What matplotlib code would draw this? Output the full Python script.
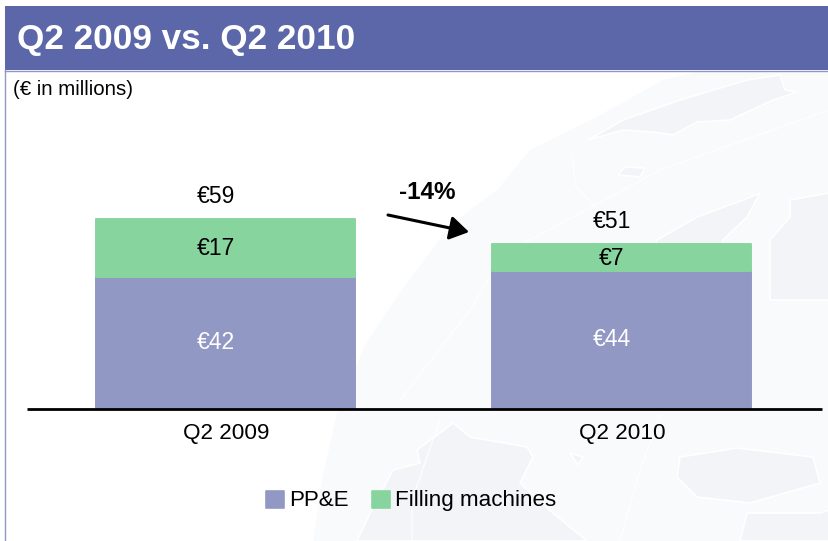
import matplotlib
matplotlib.use("Agg")
import matplotlib.pyplot as plt
from matplotlib.patches import Polygon, Rectangle

plt.rcParams["font.family"] = ["Liberation Sans", "DejaVu Sans"]

# values as printed on the chart
categories = ["Q2 2009", "Q2 2010"]
ppe_labels = ["€42", "€44"]
filling_labels = ["€17", "€7"]
total_labels = ["€59", "€51"]
change_label = "-14%"
title = "Q2 2009 vs. Q2 2010"
unit_note = "(€ in millions)"

# segment heights (the drawn bars are not quite to scale)
ppe_values = [42.0, 44.0]
filling_values = [18.8, 8.6]

bar_x = [226, 622]
scale = 3.12  # pixels per € million
base_y = 408.5

PPE_COLOR = "#9298C4"
FILL_COLOR = "#87D49E"

# faint map behind the chart, in pixel coordinates
globe_edge = [(313, 541), (322, 480), (337, 413), (365, 345), (402, 290), (450, 225), (497, 190),
              (530, 150), (597, 117), (663, 80), (700, 71), (829, 71), (829, 541)]
land = [
    [(588, 140), (623, 120), (680, 100), (747, 80), (780, 75), (785, 90), (797, 92), (773, 100),
     (730, 120), (697, 122), (673, 135), (653, 132), (623, 130)],
    [(618, 175), (625, 167), (645, 168), (640, 177)],
    [(657, 240), (697, 217), (743, 200), (760, 193), (747, 217), (723, 240), (700, 300), (640, 300)],
    [(770, 240), (790, 217), (790, 200), (829, 193), (829, 300), (770, 300)],
    [(357, 541), (370, 513), (393, 470), (420, 463), (417, 450), (453, 423), (470, 437), (527, 447),
     (533, 457), (520, 483), (553, 513), (587, 541)],
    [(677, 477), (680, 457), (737, 448), (813, 457), (820, 483), (750, 503), (697, 497)],
    [(740, 541), (747, 513), (820, 513), (829, 510), (829, 541)],
    [(570, 453), (583, 457), (578, 465)],
]
grid_lines = [
    [(493, 260), (660, 170), (829, 110)],
    [(572, 153), (575, 185), (595, 207)],
    [(400, 400), (470, 310), (500, 260)],
    [(412, 541), (412, 500), (440, 420)],
    [(620, 541), (640, 470), (660, 415)],
]

fig = plt.figure(figsize=(8.29, 5.41), dpi=100)
ax = fig.add_axes([0, 0, 1, 1])
ax.set_xlim(0, 829)
ax.set_ylim(-(541 - base_y) / scale, base_y / scale)
ax.axis("off")


def py(y):
    # pixel row from the top of the image to data units
    return (base_y - y) / scale


def to_data(points):
    return [(x, py(y)) for x, y in points]


# background globe
ax.add_patch(Polygon(to_data(globe_edge), closed=True, facecolor="#F9FAFC", edgecolor="none", zorder=0))
for shape in land:
    ax.add_patch(Polygon(to_data(shape), closed=True, facecolor="#F2F4F8", edgecolor="white", lw=1.2, zorder=1))
for line in grid_lines:
    ax.plot(*zip(*to_data(line)), color="white", lw=0.8, zorder=1)

# header band and left rule
ax.add_patch(Rectangle((5, py(70)), 824, 64 / scale, facecolor="#5B67A8", edgecolor="none", zorder=2))
ax.plot([5.5, 5.5], [py(70), py(541)], color="#8F98C8", lw=1, zorder=2)
ax.plot([5, 829], [py(70.5), py(70.5)], color="#8F98C8", lw=1, zorder=2)
ax.text(17, py(39), title, color="white", fontsize=25.3, fontweight="bold", va="center", zorder=3)
ax.text(13, py(89), unit_note, color="black", fontsize=14.7, va="center", zorder=3)

# stacked bars, edge in the same colour gives the rounded corners
ax.bar(bar_x, ppe_values, width=259, color=PPE_COLOR, edgecolor=PPE_COLOR, lw=1.4, zorder=3, joinstyle="round")
ax.bar(bar_x, filling_values, bottom=ppe_values, width=259, color=FILL_COLOR, edgecolor=FILL_COLOR,
       lw=1.4, zorder=3, joinstyle="round")
ax.plot([27, 822], [0, 0], color="black", lw=2, zorder=4, solid_capstyle="butt")

for i, x in enumerate(bar_x):
    top = ppe_values[i] + filling_values[i]
    label_x = x - 10
    ax.text(label_x, ppe_values[i] / 2, ppe_labels[i], color="white", fontsize=16.5, ha="center", va="center", zorder=5)
    ax.text(label_x, ppe_values[i] + filling_values[i] / 2 - 0.2, filling_labels[i], color="black", fontsize=16.5,
            ha="center", va="center", zorder=5)
    ax.text(label_x, top + 7.2, total_labels[i], color="black", fontsize=16.5, ha="center", va="center", zorder=5)
    ax.text(x, py(434), categories[i], color="black", fontsize=16.2, ha="center", va="center", zorder=5)

# change arrow
ax.annotate("", xy=(469, py(232)), xytext=(388, py(215)),
            arrowprops=dict(arrowstyle="-|>,head_width=0.72,head_length=1.15", color="black", lw=2.2,
                            shrinkA=0, shrinkB=0, mutation_scale=10), zorder=5)
ax.text(427, py(192), change_label, color="black", fontsize=17.5, fontweight="bold", ha="center", va="center", zorder=5)

# legend drawn by hand to keep the tight spacing
for x, color, label in [(266, PPE_COLOR, "PP&E"), (372, FILL_COLOR, "Filling machines")]:
    ax.add_patch(Rectangle((x + 0.5, py(507.5)), 17.5, 17 / scale, facecolor=color, edgecolor=color, lw=1.2,
                           joinstyle="round", zorder=5))
    ax.text(x + 23, py(500.5), label, color="black", fontsize=16.1, va="center", zorder=5)

fig.savefig("out.png", dpi=100)
